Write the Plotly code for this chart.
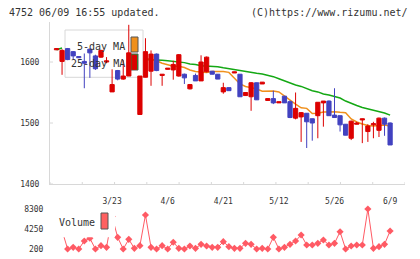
import numpy as np
import plotly.graph_objects as go

# ---------------- data ----------------
date_labels = ["3/23", "4/6", "4/21", "5/12", "5/26", "6/9"]
date_label_idx = [10, 20, 30, 40, 50, 60]

opens = [1620, 1601, 1622, 1617, 1609, 1601, 1621, 1610, 1608, 1600,
         1551, 1586, 1572, 1577, 1588, 1514, 1575, 1585, 1613, 1578,
         1588, 1587, 1577, 1580, 1556, 1578, 1569, 1584, 1585, 1580,
         1551, 1558, 1582, 1580, 1545, 1543, 1566, 1564, 1537, 1540,
         1533, 1544, 1535, 1508, 1510, 1516, 1507, 1512, 1533, 1536,
         1513, 1512, 1498, 1475, 1498, 1505, 1486, 1497, 1488, 1508,
         1500]
highs = [1622, 1621, 1623, 1618, 1609, 1614, 1622, 1612, 1620, 1608,
         1588, 1587, 1603, 1661, 1612, 1577, 1639, 1619, 1614, 1580,
         1590, 1602, 1613, 1581, 1564, 1581, 1611, 1609, 1585, 1580,
         1566, 1558, 1584, 1580, 1550, 1567, 1566, 1567, 1540, 1553,
         1535, 1544, 1537, 1550, 1518, 1516, 1507, 1534, 1536, 1537,
         1557, 1512, 1498, 1504, 1502, 1507, 1498, 1502, 1509, 1509,
         1501]
lows = [1620, 1579, 1603, 1604, 1607, 1557, 1574, 1587, 1607, 1598,
        1551, 1570, 1571, 1577, 1588, 1514, 1575, 1561, 1585, 1561,
        1588, 1571, 1576, 1564, 1555, 1569, 1569, 1583, 1580, 1572,
        1548, 1553, 1582, 1543, 1545, 1520, 1538, 1564, 1537, 1531,
        1533, 1533, 1508, 1506, 1469, 1459, 1471, 1475, 1494, 1512,
        1509, 1486, 1480, 1472, 1498, 1467, 1469, 1475, 1477, 1479,
        1464]
closes = [1622, 1619, 1604, 1610, 1607, 1598, 1615, 1589, 1619, 1602,
          1563, 1572, 1577, 1615, 1611, 1577, 1617, 1613, 1586, 1580,
          1590, 1596, 1612, 1574, 1563, 1569, 1600, 1608, 1580, 1572,
          1558, 1553, 1584, 1543, 1550, 1566, 1538, 1567, 1540, 1533,
          1535, 1533, 1509, 1524, 1517, 1502, 1500, 1534, 1536, 1512,
          1509, 1497, 1480, 1503, 1500, 1507, 1495, 1499, 1508, 1498,
          1464]
volumes = [3600, 3950, 200, 540, 200, 1820, 2370, 200, 870, 540,
           6780, 2570, 200, 2160, 340, 870, 7090, 540, 200, 870,
           200, 1560, 340, 200, 810, 340, 1150, 810, 540, 540,
           1680, 670, 340, 340, 1350, 1150, 200, 340, 200, 2570,
           200, 540, 1150, 1820, 3040, 1010, 1010, 1350, 2020, 1010,
           1350, 3700, 200, 810, 1010, 1010, 8300, 340, 670, 1150,
           3850]
ma5 = [None] * 16 + [
    1606, 1604, 1602, 1598, 1595, 1593, 1593, 1591, 1587, 1584.5,
    1583.6, 1583, 1584.4, 1584.8, 1584.4, 1583, 1574, 1564, 1560, 1558,
    1556, 1552, 1552.8, 1552.5, 1551, 1544, 1538, 1531, 1525, 1524,
    1515.6, 1516, 1518, 1518.5, 1518.5, 1517.5, 1517, 1506.6, 1501.6, 1498.4,
    1496, 1495, 1496, 1496.7, 1495]
ma25 = [1620, 1623] + [None] * 14 + [
    1604, 1603.8, 1603.8, 1603, 1602, 1601, 1600.8, 1599, 1596.7, 1596,
    1594, 1593.4, 1593, 1592.3, 1590.5, 1589, 1587, 1585, 1583.6, 1582,
    1581.5, 1580.3, 1578.7, 1576, 1572.6, 1569, 1565, 1562.3, 1560, 1556,
    1553, 1551, 1547.5, 1546, 1543.4, 1541, 1536, 1532, 1528.7, 1525.4,
    1523.4, 1521.3, 1519, 1516.4, 1513]

price_ticks = [1400, 1500, 1600]
vol_ticks = [200, 4250, 8300]

# ---------------- style / layout ----------------
RED = "#dc0000"
BLUE = "#4242c0"
ORANGE = "#f0901c"
GREEN = "#14a814"
VOLC = "#ff5a64"
AXC = "#d8d8d8"
TXT = "#333333"
FONT = "DejaVu Sans Mono"

W, H = 420, 259
L, R, T, B = 50, 15, 22, 6
PW, PH = W - L - R, H - T - B


def px(xp):
    return (xp - L) / PW


def py(yp):
    return (H - B - yp) / PH


x_range = [-1.17, 62.68]
y_range = [1400, 1665.6]
vol_range = [-610, 9110]
main_dom = [py(184), 1]
vol_dom = [0, py(205)]

n = len(opens)
idx = list(range(n))
hw = 0.38

fig = go.Figure()

# moving averages (under candles)
fig.add_trace(go.Scatter(x=idx, y=ma25, mode="lines", line=dict(color=GREEN, width=1.5),
                         hoverinfo="skip", showlegend=False))
fig.add_trace(go.Scatter(x=idx, y=ma5, mode="lines", line=dict(color=ORANGE, width=1.5),
                         hoverinfo="skip", showlegend=False))

# candles
for col, up in ((RED, True), (BLUE, False)):
    wx, wy, bx, by = [], [], [], []
    for i in idx:
        o, h, l, c = opens[i], highs[i], lows[i], closes[i]
        if (c >= o) != up:
            continue
        wx += [i, i, None]
        wy += [l, h, None]
        lo, hi = min(o, c), max(o, c)
        bx += [i - hw, i + hw, i + hw, i - hw, i - hw, None]
        by += [lo, lo, hi, hi, lo, None]
    fig.add_trace(go.Scatter(x=wx, y=wy, mode="lines", line=dict(color=col, width=1),
                             hoverinfo="skip", showlegend=False))
    fig.add_trace(go.Scatter(x=bx, y=by, mode="lines", fill="toself", fillcolor=col,
                             line=dict(color=col, width=1), hoverinfo="skip", showlegend=False))

# volume
fig.add_trace(go.Scatter(x=idx, y=volumes, mode="lines+markers", xaxis="x2", yaxis="y2",
                         line=dict(color=VOLC, width=1),
                         marker=dict(symbol="diamond", size=5.5, color=VOLC),
                         hoverinfo="skip", showlegend=False))

shapes = []
# x tick marks crossing the axis
for t in np.linspace(x_range[0], x_range[1], 12):
    shapes.append(dict(type="line", xref="x", yref="y", x0=t, x1=t,
                       ysizemode="pixel", yanchor=y_range[0], y0=-5, y1=2,
                       line=dict(color=AXC, width=1)))
# y tick marks crossing the axis
for v in price_ticks:
    shapes.append(dict(type="line", xref="x", yref="y", y0=v, y1=v,
                       xsizemode="pixel", xanchor=x_range[0], x0=-5, x1=3,
                       line=dict(color=AXC, width=1)))
# main legend box and swatches
shapes.append(dict(type="rect", xref="paper", yref="paper", x0=px(65), x1=px(143),
                   y0=py(77.3), y1=py(30), fillcolor="white", line=dict(color=AXC, width=1),
                   layer="below"))
shapes.append(dict(type="rect", xref="paper", yref="paper", x0=px(131), x1=px(138),
                   y0=py(52), y1=py(37), fillcolor=ORANGE, line=dict(color="#555555", width=1),
                   layer="below"))
shapes.append(dict(type="rect", xref="paper", yref="paper", x0=px(131), x1=px(138),
                   y0=py(70), y1=py(54), fillcolor=GREEN, line=dict(color="#555555", width=1),
                   layer="below"))
# volume legend box and swatch
shapes.append(dict(type="rect", xref="paper", yref="paper", x0=px(50.5), x1=px(115),
                   y0=py(237.3), y1=py(207), fillcolor="white", line=dict(width=0),
                   layer="above"))
shapes.append(dict(type="rect", xref="paper", yref="paper", x0=px(101), x1=px(108),
                   y0=py(229), y1=py(213), fillcolor="#ff6060", line=dict(color="#555555", width=1),
                   layer="above"))

tf = dict(family=FONT, size=10, color=TXT)
annotations = [
    dict(text="4752 06/09 16:55 updated.", x=px(7), y=py(12.5), xanchor="left", yanchor="middle"),
    dict(text="(C)https://www.rizumu.net/", x=px(410), y=py(12.5), xanchor="right", yanchor="middle"),
    dict(text="5-day MA", x=px(127), y=py(46.5), xanchor="right", yanchor="middle"),
    dict(text="25-day MA", x=px(127), y=py(63), xanchor="right", yanchor="middle"),
    dict(text="Volume", x=px(57), y=py(222), xanchor="left", yanchor="middle"),
]
for a in annotations:
    a.update(xref="paper", yref="paper", showarrow=False, font=tf)

tickfont = dict(family=FONT, size=8, color=TXT)
fig.update_layout(
    width=W, height=H,
    margin=dict(l=L, r=R, t=T, b=B, pad=0, autoexpand=False),
    paper_bgcolor="white", plot_bgcolor="rgba(0,0,0,0)",
    showlegend=False,
    xaxis=dict(domain=[0, 1], range=x_range, anchor="y", showline=True, linecolor=AXC,
               linewidth=1, showgrid=False, zeroline=False, tickmode="array",
               tickvals=date_label_idx, ticktext=date_labels, ticks="outside", ticklen=9,
               tickcolor="rgba(0,0,0,0)", tickfont=tickfont, automargin=False),
    yaxis=dict(domain=main_dom, range=y_range, showline=True, linecolor=AXC, linewidth=1,
               showgrid=False, zeroline=False, tickmode="array", tickvals=price_ticks,
               ticks="outside", ticklen=8, tickcolor="rgba(0,0,0,0)", tickfont=tickfont,
               automargin=False),
    xaxis2=dict(domain=[0, 1], range=x_range, anchor="y2", visible=False, automargin=False),
    yaxis2=dict(domain=vol_dom, range=vol_range, showline=False, showgrid=False,
                zeroline=False, tickmode="array", tickvals=vol_ticks, ticks="outside",
                ticklen=4, tickcolor="rgba(0,0,0,0)", tickfont=tickfont, automargin=False),
    shapes=shapes,
    annotations=annotations,
)

fig.write_html("out.html")
